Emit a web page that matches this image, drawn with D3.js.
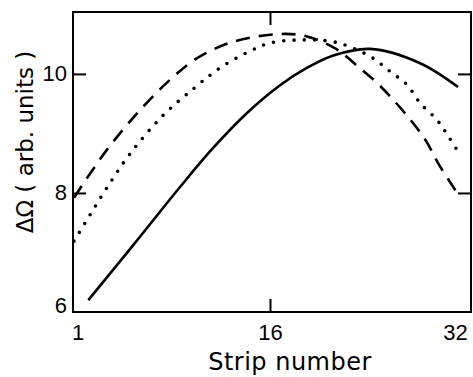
<!DOCTYPE html>
<html>
<head>
<meta charset="utf-8">
<script src="https://cdn.jsdelivr.net/npm/d3@7"></script>
<style>
  body { margin: 0; background: #fff; }
  svg { display: block; font-family: "DejaVu Sans", sans-serif; }
  .axis path.domain { display: none; }
  .axis line { stroke: #000; stroke-width: 2; }
  .axis text { font-size: 22px; fill: #000; }
</style>
</head>
<body>
<svg id="chart"></svg>
<script>
// values
const solidStrip  = [1.54, 5.18, 8.84, 11.49, 14.15, 16.80, 18.93, 21.04, 23.97, 27.95, 30.97];
const solidVal    = [6.20, 7.14, 8.10, 8.76, 9.34, 9.81, 10.10, 10.31, 10.42, 10.18, 9.78];

const dashedStrip = [0.40, 3.00, 5.65, 8.04, 10.17, 13.06, 16.80, 18.93, 21.26, 22.97, 24.56, 25.96, 27.29, 28.43, 29.38, 30.65, 30.97];
const dashedVal   = [7.92, 8.72, 9.39, 9.90, 10.26, 10.54, 10.67, 10.63, 10.42, 10.13, 9.84, 9.53, 9.20, 8.87, 8.50, 8.08, 7.98];

const dottedStrip = [0.40, 1.67, 3.00, 4.80, 7.38, 9.95, 12.02, 14.28, 16.00, 18.39, 21.04, 22.64, 24.23, 25.56, 26.89, 27.95, 29.28, 30.20, 31.13];
const dottedVal   = [7.19, 7.63, 8.08, 8.64, 9.28, 9.76, 10.10, 10.37, 10.52, 10.57, 10.54, 10.43, 10.26, 10.04, 9.82, 9.51, 9.23, 8.95, 8.64];

const xTicks = [1, 16, 32];
const yTicks = [6, 8, 10];
const xTitle = "Strip number";
const yTitle = "ΔΩ ( arb. units )";

const W = 473, H = 377;
const margin = {top: 12, right: 2, bottom: 65, left: 73};
const width = W - margin.left - margin.right,
    height = H - margin.top - margin.bottom;

const svg = d3.select('#chart').attr('width', W).attr('height', H);
const g = svg.append('g').attr('transform', `translate(${margin.left}, ${margin.top})`);

const x = d3.scaleLinear().domain([0.32, 32]).range([0, width]);
const y = d3.scaleLinear().domain([6, 11.04]).range([height, 0]);

const TICK = -13;

const xAxis = g.append('g').attr('class', 'axis')
    .attr('transform', `translate(0, ${height})`)
    .call(d3.axisBottom(x).tickValues(xTicks).tickSizeInner(TICK).tickSizeOuter(0).tickPadding(12));
xAxis.selectAll('.tick').filter(d => d !== 16).select('line').remove();
xAxis.selectAll('.tick text').filter(d => d === 1).attr('dx', -4);
xAxis.selectAll('.tick text').filter(d => d === 32).attr('dx', -16);

g.append('g').attr('class', 'axis')
    .call(d3.axisTop(x).tickValues([16]).tickSizeInner(TICK).tickSizeOuter(0).tickFormat(''));

const yAxis = g.append('g').attr('class', 'axis')
    .call(d3.axisLeft(y).tickValues(yTicks).tickFormat(d3.format('d'))
        .tickSizeInner(TICK).tickSizeOuter(0).tickPadding(6));
yAxis.selectAll('.tick').filter(d => d === 6).select('line').remove();
yAxis.selectAll('.tick text').filter(d => d === 6).attr('y', -7);

g.append('g').attr('class', 'axis')
    .attr('transform', `translate(${width}, 0)`)
    .call(d3.axisRight(y).tickValues([8, 10]).tickSizeInner(TICK).tickSizeOuter(0).tickFormat(''));

g.append('rect')
    .attr('width', width).attr('height', height)
    .attr('fill', 'none').attr('stroke', '#000').attr('stroke-width', 2);

const line = d3.line()
    .x(d => x(d[0]))
    .y(d => y(d[1]))
    .curve(d3.curveCatmullRom);

const series = [
    {pts: d3.zip(solidStrip, solidVal), dash: null, w: 2.6, cap: 'butt'},
    {pts: d3.zip(dashedStrip, dashedVal), dash: '14,9', w: 2.6, cap: 'butt'},
    {pts: d3.zip(dottedStrip, dottedVal), dash: '0,10.3', w: 3.6, cap: 'round'}
];

g.selectAll('.curve')
    .data(series)
    .enter()
    .append('path')
    .classed('curve', true)
    .attr('d', d => line(d.pts))
    .attr('fill', 'none')
    .attr('stroke', '#000')
    .attr('stroke-width', d => d.w)
    .attr('stroke-linecap', d => d.cap)
    .attr('stroke-dasharray', d => d.dash);

svg.append('text')
    .attr('x', 290).attr('y', 370)
    .attr('text-anchor', 'middle')
    .attr('font-size', 24)
    .attr('letter-spacing', 0.5)
    .text(xTitle);

svg.append('text')
    .attr('transform', 'translate(33, 142) rotate(-90)')
    .attr('text-anchor', 'middle')
    .attr('font-size', 23)
    .text(yTitle);
</script>
</body>
</html>
